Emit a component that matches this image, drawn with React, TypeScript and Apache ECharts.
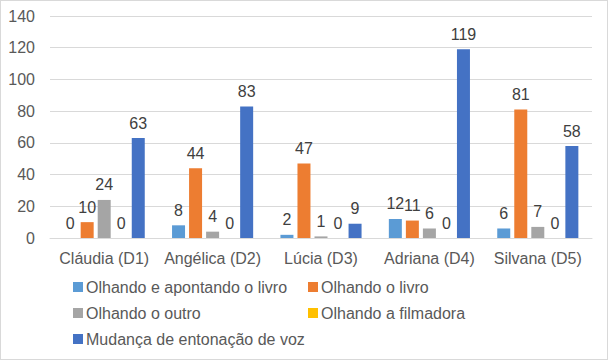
import React, { useEffect, useRef } from "react";
import * as echarts from "echarts";

const categories = ["Cláudia (D1)", "Angélica (D2)", "Lúcia (D3)", "Adriana (D4)", "Silvana (D5)"];
const seriesNames = [
  "Olhando e apontando o livro",
  "Olhando o livro",
  "Olhando o outro",
  "Olhando a filmadora",
  "Mudança de entonação de voz",
];
const apontando = [0, 8, 2, 12, 6];
const livro = [10, 44, 47, 11, 81];
const outro = [24, 4, 1, 6, 7];
const filmadora = [0, 0, 0, 0, 0];
const entonacao = [63, 83, 9, 119, 58];
const colors = ["#5B9BD5", "#ED7D31", "#A5A5A5", "#FFC000", "#4472C4"];

export default function App() {
  const ref = useRef<HTMLDivElement>(null);
  useEffect(() => {
    document.body.style.margin = "0";
    const chart = echarts.init(ref.current!, null, { renderer: "svg" });
    const values = [apontando, livro, outro, filmadora, entonacao];
    const font = "'Liberation Sans', Arial, sans-serif";
    const legendText = { fontSize: 16, color: "#595959", fontFamily: font, lineHeight: 16, padding: [0, 0, 0, -2] };
    chart.setOption({
      animation: false,
      color: colors,
      textStyle: { fontFamily: font },
      grid: { left: 49, right: 15, top: 15, bottom: 121, containLabel: false },
      legend: [
        {
          data: [seriesNames[0], seriesNames[2], seriesNames[4]],
          orient: "vertical",
          left: 67,
          top: 273,
          itemWidth: 10,
          itemHeight: 10,
          itemGap: 10,
          icon: "rect",
          textStyle: legendText,
        },
        {
          data: [seriesNames[1], seriesNames[3]],
          orient: "vertical",
          left: 302,
          top: 273,
          itemWidth: 10,
          itemHeight: 10,
          itemGap: 10,
          icon: "rect",
          textStyle: legendText,
        },
      ],
      xAxis: {
        type: "category",
        data: categories,
        axisLine: { lineStyle: { color: "#D9D9D9" } },
        axisTick: { show: false },
        axisLabel: { fontSize: 16, color: "#595959", margin: 12, fontFamily: font, interval: 0 },
      },
      yAxis: {
        type: "value",
        min: 0,
        max: 140,
        interval: 20,
        axisLine: { show: false },
        axisTick: { show: false },
        splitLine: { lineStyle: { color: "#D9D9D9" } },
        axisLabel: { fontSize: 16, color: "#595959", margin: 15, fontFamily: font },
      },
      series: seriesNames.map((name, i) => ({
        name,
        type: "bar",
        data: values[i],
        barWidth: 13,
        barGap: "31%",
        itemStyle: { color: colors[i] },
        label: {
          show: true,
          position: "top",
          distance: 7,
          fontSize: 16,
          color: "#404040",
          fontFamily: font,
        },
      })),
    });
    return () => chart.dispose();
  }, []);
  return (
    <div
      ref={ref}
      style={{ width: 608, height: 360, border: "1px solid #D9D9D9", boxSizing: "border-box" }}
    />
  );
}
